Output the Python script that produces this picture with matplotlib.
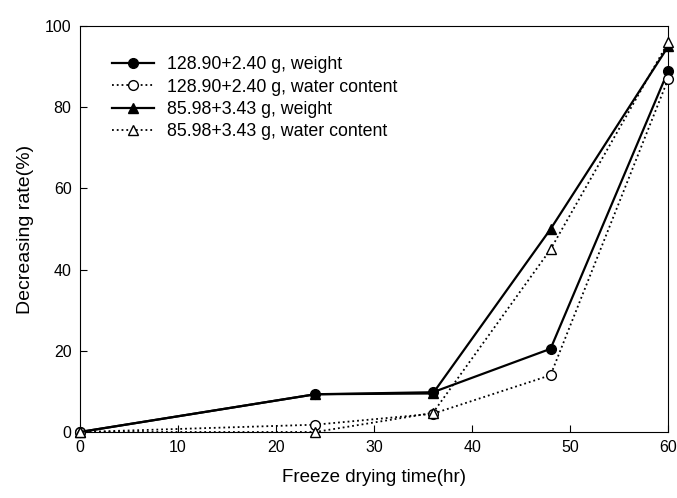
import matplotlib
matplotlib.use("Agg")
import matplotlib.pyplot as plt

plt.rcParams['font.family'] = ['Liberation Sans', 'DejaVu Sans']

time_hr = [0, 24, 36, 48, 60]
w1_weight = [0, 9.3, 9.8, 20.5, 89.0]
w1_water = [0, 1.8, 4.5, 14.0, 87.0]
w2_weight = [0, 9.3, 9.5, 50.0, 95.0]
w2_water = [0, 0.0, 4.7, 45.0, 96.0]
labels = ["128.90+2.40 g, weight", "128.90+2.40 g, water content",
          "85.98+3.43 g, weight", "85.98+3.43 g, water content"]

fig = plt.figure(figsize=(6.77, 4.98), dpi=100)
ax = fig.add_axes([0.118, 0.1325, 0.869, 0.815])

ms = 7
ax.plot(time_hr, w1_weight, '-', color='black', lw=1.6, marker='o', ms=ms,
        mfc='black', mec='black', label=labels[0], clip_on=False, zorder=3)
ax.plot(time_hr, w1_water, ':', color='black', lw=1.3, marker='o', ms=ms,
        mfc='white', mec='black', label=labels[1], clip_on=False, zorder=3)
ax.plot(time_hr, w2_weight, '-', color='black', lw=1.6, marker='^', ms=ms,
        mfc='black', mec='black', label=labels[2], clip_on=False, zorder=3)
ax.plot(time_hr, w2_water, ':', color='black', lw=1.3, marker='^', ms=ms,
        mfc='white', mec='black', label=labels[3], clip_on=False, zorder=3)

ax.set_xlim(0, 60)
ax.set_ylim(0, 100)
ax.set_xticks([0, 10, 20, 30, 40, 50, 60])
ax.set_yticks([0, 20, 40, 60, 80, 100])
ax.tick_params(direction='in', length=5, labelsize=11.5, pad=6)
ax.set_xlabel("Freeze drying time(hr)", fontsize=13.5, labelpad=10)
ax.set_ylabel("Decreasing rate(%)", fontsize=14, labelpad=8)

leg = ax.legend(loc='upper left', bbox_to_anchor=(0.027, 0.965), frameon=False,
                fontsize=12.8, handlelength=2.4, labelspacing=0.3, handletextpad=0.7)

fig.savefig("out.png", dpi=100)
